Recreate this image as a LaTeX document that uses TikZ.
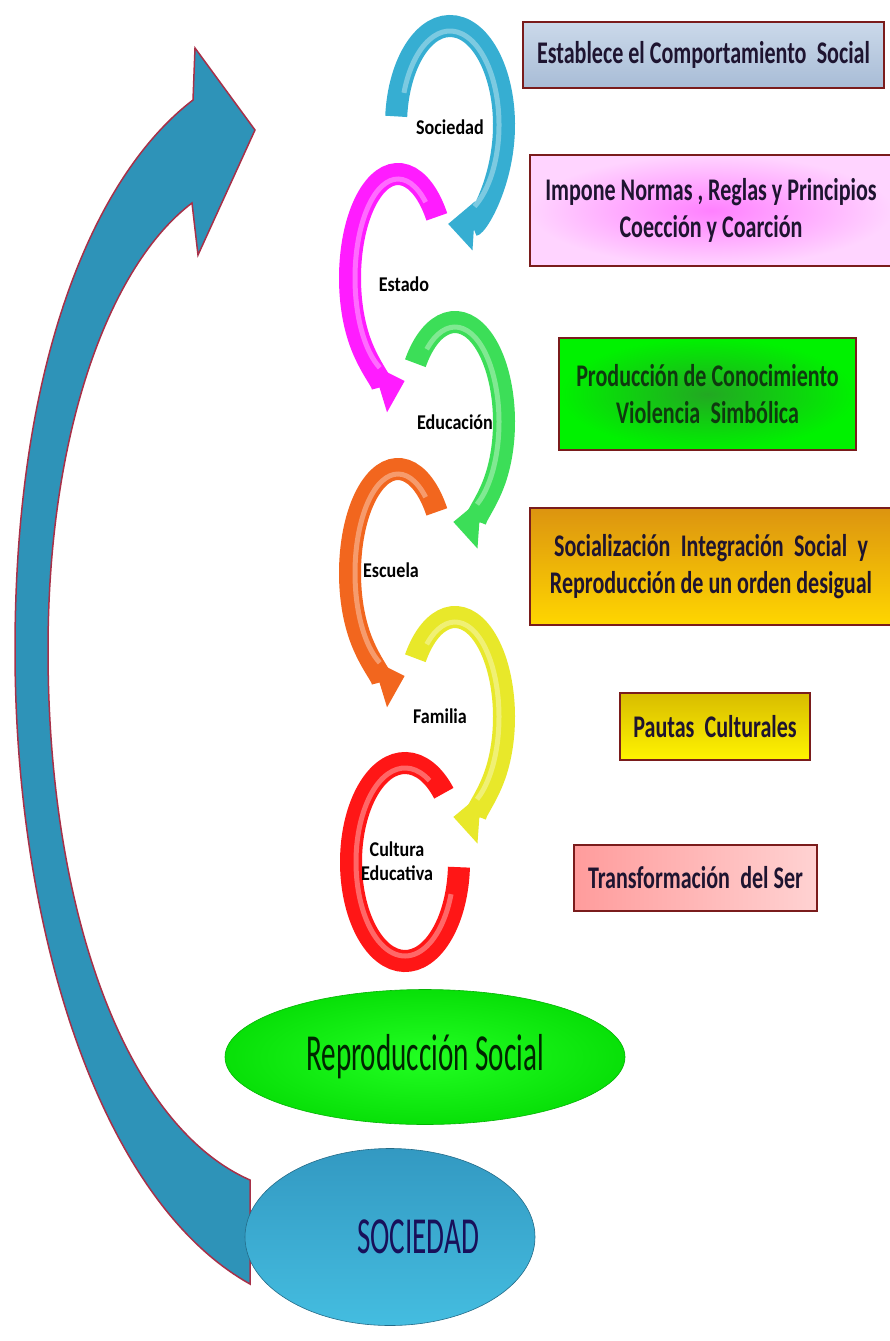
\documentclass[tikz,border=0pt]{standalone}
\usepackage{fontspec}
\setmainfont{Carlito}
\newfontfamily\boxfont[FakeStretch=0.70]{Carlito}
\newfontfamily\elfont[FakeStretch=0.56]{Carlito}
\newfontfamily\lblfont[FakeStretch=0.86]{Carlito}
\usetikzlibrary{arrows.meta,shapes.geometric,shadows}
\definecolor{cyanA}{HTML}{36AED2}
\definecolor{magA}{HTML}{FF1CFF}
\definecolor{grnA}{HTML}{3CDE58}
\definecolor{orgA}{HTML}{F2661E}
\definecolor{yelA}{HTML}{E8E82A}
\definecolor{redA}{HTML}{FF1616}
\definecolor{bord}{HTML}{7A1C1C}
\definecolor{bigA}{HTML}{2E93B8}
\definecolor{bigE}{HTML}{A83048}
\definecolor{txt}{HTML}{1E1430}
\definecolor{txtg}{HTML}{0F3A0F}
\definecolor{b1t}{HTML}{CBD9EA}
\definecolor{b1b}{HTML}{A8BCD6}
\definecolor{b2i}{HTML}{FF80FF}
\definecolor{b2o}{HTML}{FFD4FF}
\definecolor{b3i}{HTML}{22A822}
\definecolor{b3o}{HTML}{00F200}
\definecolor{b4t}{HTML}{DC9410}
\definecolor{b4b}{HTML}{FFD600}
\definecolor{b5t}{HTML}{D8BC00}
\definecolor{b5b}{HTML}{FFF400}
\definecolor{b6l}{HTML}{FF9C9C}
\definecolor{b6r}{HTML}{FFD2D2}
\definecolor{repI}{HTML}{22FF22}
\definecolor{repO}{HTML}{08E008}
\definecolor{socT}{HTML}{3399C2}
\definecolor{socB}{HTML}{44BDE0}
\tikzset{
  ring/.style={line width=22pt, line cap=butt},
  ringtip/.style={ring, -{Triangle[length=26pt,width=48pt]}},
  hilite/.style={line width=5pt, white, opacity=0.35},
  infobox/.style={draw=bord, line width=2pt, align=center, inner sep=0pt,
    font=\boxfont\bfseries\fontsize{31.5}{37}\selectfont, text=txt},
  lbl/.style={font=\lblfont\bfseries\fontsize{21}{30}\selectfont, align=center, text=black},
  oval/.style={ellipse, inner sep=0pt, font=\elfont\fontsize{52}{54}\selectfont}
}
\begin{document}
\begin{tikzpicture}[x=1pt,y=-1pt]
\useasboundingbox (0,0) rectangle (889,1341);
\fill[white] (0,0) rectangle (889,1341);

% big return arrow
\filldraw[fill=bigA, draw=bigE, line width=1.5pt, line join=miter]
  (250,1284) .. controls (100,1200) and (15,930) .. (15,650)
  .. controls (15,360) and (95,175) .. (193,100)
  -- (195,48) -- (255,130) -- (198,255) -- (192,203)
  .. controls (110,265) and (48,430) .. (48,650)
  .. controls (48,910) and (125,1125) .. (250,1180) -- cycle;

% ring arrows (bottom first so each head lies on the next tail)
\draw[ring, redA] (405,862) ++(316:54 and 99) arc[start angle=316, end angle=3, x radius=54, y radius=99];
\draw[hilite] (405,862) ++(300:49 and 94) arc[start angle=300, end angle=20, x radius=49, y radius=94];

\draw[ringtip, yelA] (455,717) ++(216:49 and 100) arc[start angle=216, end angle=452, x radius=49, y radius=100];
\draw[hilite] (455,717) ++(230:44 and 95) arc[start angle=230, end angle=420, x radius=44, y radius=95];

\draw[ringtip, orgA] (398,573) ++(324:48 and 104) arc[start angle=324, end angle=82, x radius=48, y radius=104];
\draw[hilite] (398,573) ++(310:43 and 99) arc[start angle=310, end angle=115, x radius=43, y radius=99];

\draw[ringtip, grnA] (455,422) ++(216:49 and 100) arc[start angle=216, end angle=452, x radius=49, y radius=100];
\draw[hilite] (455,422) ++(230:44 and 95) arc[start angle=230, end angle=420, x radius=44, y radius=95];

\draw[ringtip, magA] (398,278) ++(324:48 and 104) arc[start angle=324, end angle=82, x radius=48, y radius=104];
\draw[hilite] (398,278) ++(310:43 and 99) arc[start angle=310, end angle=115, x radius=43, y radius=99];

\draw[ringtip, cyanA] (450,125) ++(185:54 and 99) arc[start angle=185, end angle=452, x radius=54, y radius=99];
\draw[hilite] (450,125) ++(200:49 and 94) arc[start angle=200, end angle=420, x radius=49, y radius=94];

% ring labels
\node[lbl] (l1) at (450,127) {Sociedad};
\node[lbl] (l2) at (404,284) {Estado};
\node[lbl] (l3) at (455,422) {Educación};
\node[lbl] (l4) at (391,570) {Escuela};
\node[lbl] (l5) at (440,716) {Familia};
\node[lbl] (l6) at (397,861) {Cultura\\[-6pt]Educativa};

% info boxes
\node[infobox, minimum width=361pt, minimum height=66pt, top color=b1t, bottom color=b1b] (b1) at (703.5,55)
  {Establece el Comportamiento\, Social};
\node[infobox, minimum width=362pt, minimum height=111pt, inner color=b2i, outer color=b2o] (b2) at (711,210.5)
  {Impone Normas , Reglas y Principios\\Coección y Coarción};
\node[infobox, minimum width=297pt, minimum height=112pt, inner color=b3i, outer color=b3o, text=txtg] (b3) at (707.5,394)
  {Producción de Conocimiento\\Violencia\, Simbólica};
\node[infobox, minimum width=362pt, minimum height=117pt, top color=b4t, bottom color=b4b] (b4) at (711,566.5)
  {Socialización\, Integración\, Social\, y\\Reproducción de un orden desigual};
\node[infobox, minimum width=190pt, minimum height=67pt, top color=b5t, bottom color=b5b] (b5) at (715,726.5)
  {Pautas\, Culturales};
\node[infobox, minimum width=243pt, minimum height=66pt, left color=b6l, right color=b6r] (b6) at (695.5,878)
  {Transformación\, del Ser};

% ellipses
\node[oval, minimum width=400pt, minimum height=135pt, draw=repO!80!black, line width=0.6pt,
      inner color=repI, outer color=repO, text=black!85!green] (rep) at (425,1057) {Reproducción Social};
\node[oval, minimum width=290pt, minimum height=177pt, draw=socT!70!black, line width=0.6pt,
      top color=socT, bottom color=socB, text=txt!80!blue] (soc) at (390,1237) {\hspace*{56pt}SOCIEDAD};
\end{tikzpicture}
\end{document}
